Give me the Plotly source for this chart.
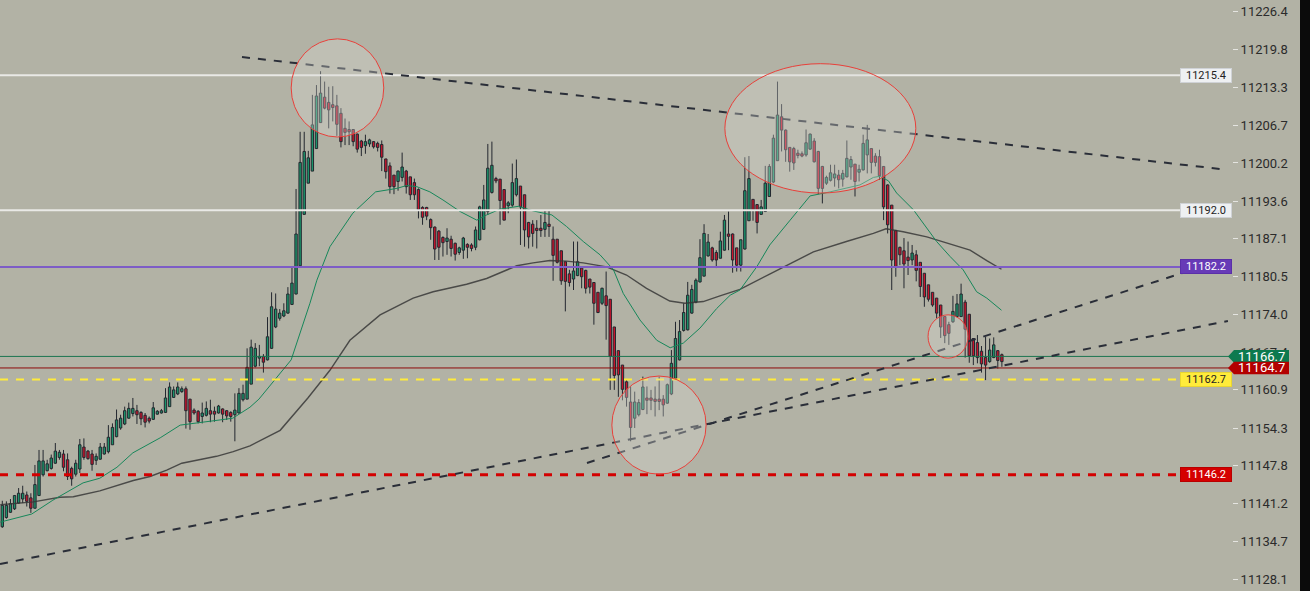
import plotly.graph_objects as go

# ---------------- candle data (OHLC) ----------------
open_ = [
11137.2,11138.8,11139.7,11140.3,11141.3,11142.0,11142.7,11142.2,11140.4,11142.6,
11146.2,11146.9,11147.3,11148.2,11149.2,11149.8,11148.8,11147.3,11146.3,11147.2,
11151.0,11150.3,11149.8,11148.7,11148.9,11149.8,11150.2,11151.4,11152.8,11154.3,
11155.0,11156.0,11156.8,11157.3,11157.0,11156.5,11156.0,11155.8,11156.7,11156.9,
11157.0,11158.0,11159.6,11160.2,11160.6,11161.1,11159.3,11157.4,11157.2,11156.3,
11156.5,11157.3,11157.2,11156.9,11157.6,11157.3,11157.0,11156.6,11156.9,11159.2,
11159.3,11161.9,11165.0,11166.4,11166.7,11166.1,11168.1,11171.8,11173.3,11173.7,
11174.2,11175.7,11177.5,11182.4,11191.3,11196.7,11198.8,11202.7,11207.2,11211.6,
11210.7,11210.3,11210.1,11208.8,11206.2,11206.0,11206.0,11205.2,11204.0,11203.2,
11203.5,11203.9,11203.6,11203.4,11200.9,11199.7,11198.1,11197.0,11197.7,11198.8,
11197.8,11196.8,11195.6,11192.5,11192.5,11190.4,11189.1,11188.4,11187.3,11186.6,
11187.0,11186.3,11184.7,11185.1,11186.1,11186.0,11185.6,11186.9,11188.7,11191.8,
11195.1,11197.5,11197.4,11195.6,11192.8,11192.9,11194.7,11196.2,11194.7,11189.9,
11189.6,11188.9,11188.9,11188.7,11189.6,11187.0,11187.0,11185.0,11183.1,11181.0,
11180.1,11180.7,11182.0,11181.6,11180.1,11179.5,11177.8,11175.9,11177.2,11176.6,
11171.8,11167.7,11165.2,11162.3,11158.8,11156.0,11156.6,11157.5,11159.5,11159.5,
11159.3,11159.3,11159.3,11158.6,11160.2,11162.9,11166.1,11171.2,11171.3,11174.2,
11176.1,11179.6,11180.6,11184.1,11185.5,11184.7,11183.7,11185.1,11187.9,11187.9,
11185.5,11182.5,11185.3,11190.2,11193.9,11193.0,11191.3,11191.8,11194.4,11196.9,
11200.6,11208.2,11205.9,11202.9,11202.7,11201.9,11201.8,11201.6,11202.6,11204.0,
11202.2,11199.6,11196.7,11197.2,11197.6,11198.1,11197.4,11197.8,11199.5,11200.0,
11198.6,11199.0,11201.6,11202.7,11201.4,11201.3,11199.6,11196.4,11192.9,11188.5,
11185.6,11185.0,11183.9,11183.4,11184.3,11183.0,11181.1,11179.1,11177.8,11176.8,
11175.6,11173.6,11172.2,11172.7,11173.6,11173.6,11176.1,11174.0,11169.8,11169.1,
11167.6,11166.5,11165.8,11166.5,11167.7,11167.0]
high = [
11141.7,11141.6,11142.0,11142.7,11143.9,11144.3,11143.3,11143.0,11147.9,11150.5,
11150.5,11148.8,11149.7,11151.7,11150.5,11150.5,11149.9,11147.6,11148.8,11152.4,
11152.5,11150.5,11150.5,11149.9,11151.7,11151.7,11154.8,11155.1,11157.5,11156.6,
11158.0,11158.7,11159.5,11158.3,11157.2,11156.9,11156.3,11158.8,11157.4,11157.6,
11161.2,11162.2,11161.5,11162.2,11161.5,11161.5,11159.3,11157.7,11157.4,11158.7,
11158.9,11159.2,11158.0,11158.3,11157.7,11157.4,11157.2,11160.3,11161.2,11161.8,
11168.1,11169.6,11169.0,11168.7,11167.1,11173.5,11177.8,11177.6,11174.9,11175.9,
11178.7,11182.3,11195.7,11205.6,11205.6,11202.3,11212.0,11213.7,11216.1,11214.3,
11213.4,11213.5,11212.0,11209.7,11207.9,11207.4,11206.0,11205.3,11204.2,11205.1,
11204.4,11204.0,11203.9,11204.1,11200.9,11200.3,11198.1,11198.9,11202.0,11199.0,
11197.8,11197.5,11195.8,11192.7,11192.6,11190.6,11189.2,11188.6,11187.5,11188.9,
11187.6,11186.4,11185.7,11187.4,11186.3,11186.3,11189.2,11192.8,11196.4,11203.5,
11203.9,11197.8,11197.4,11195.6,11193.6,11200.1,11200.8,11196.2,11194.7,11190.0,
11190.3,11190.3,11191.2,11191.9,11191.9,11189.2,11187.0,11185.0,11183.1,11181.7,
11186.6,11186.6,11182.0,11181.7,11180.1,11179.5,11177.8,11178.6,11181.4,11176.6,
11171.8,11167.7,11165.2,11162.6,11161.5,11160.6,11159.3,11163.2,11161.5,11160.9,
11161.5,11163.2,11160.0,11162.0,11167.8,11172.7,11173.0,11175.9,11179.6,11179.1,
11180.2,11187.0,11189.6,11187.9,11185.7,11185.1,11188.3,11191.2,11191.8,11188.0,
11185.5,11186.9,11201.2,11201.4,11193.9,11193.0,11193.8,11199.7,11200.0,11205.1,
11214.3,11210.4,11206.0,11202.9,11203.0,11202.5,11202.2,11206.0,11205.3,11204.5,
11202.3,11199.7,11198.0,11199.9,11199.9,11199.0,11199.0,11204.1,11201.4,11200.0,
11199.9,11205.1,11206.8,11202.7,11201.9,11202.5,11199.6,11196.5,11192.9,11188.6,
11185.7,11187.2,11186.6,11186.0,11185.1,11183.0,11181.1,11179.1,11177.8,11176.8,
11175.6,11173.6,11172.7,11177.2,11177.5,11179.3,11176.5,11174.0,11169.8,11170.4,
11168.5,11170.1,11169.8,11170.0,11167.8,11167.2]
low = [
11137.0,11138.6,11139.6,11140.1,11141.2,11141.3,11140.7,11139.6,11140.4,11142.6,
11145.9,11146.8,11147.1,11148.1,11148.8,11146.8,11145.3,11144.3,11145.9,11146.5,
11148.8,11148.8,11146.9,11147.9,11148.8,11149.7,11149.9,11151.4,11152.7,11154.0,
11154.8,11155.9,11156.3,11155.0,11154.8,11154.4,11155.1,11155.7,11156.6,11156.8,
11156.9,11158.0,11159.5,11160.0,11160.4,11154.2,11154.0,11156.6,11155.1,11155.1,
11156.3,11155.3,11155.4,11156.8,11155.3,11155.7,11155.4,11152.0,11156.8,11158.9,
11159.3,11161.9,11164.8,11165.0,11163.9,11166.0,11168.0,11171.6,11172.9,11173.5,
11174.1,11175.6,11177.5,11182.4,11191.3,11196.7,11198.8,11202.7,11207.2,11209.5,
11206.2,11207.4,11204.9,11202.9,11203.3,11203.3,11203.1,11202.0,11201.4,11201.8,
11203.0,11202.7,11202.2,11198.8,11197.5,11194.9,11194.8,11195.4,11197.0,11194.9,
11193.8,11193.8,11190.6,11189.5,11190.3,11186.9,11183.4,11183.4,11184.0,11184.3,
11184.0,11183.3,11184.3,11183.6,11183.7,11184.9,11185.1,11186.8,11188.6,11191.2,
11194.9,11196.7,11189.5,11190.3,11191.5,11192.6,11194.4,11186.0,11185.7,11185.4,
11185.7,11185.4,11187.4,11187.4,11187.4,11179.8,11182.8,11179.1,11174.5,11178.8,
11178.2,11180.6,11178.5,11177.6,11177.6,11172.2,11174.2,11175.6,11169.6,11160.9,
11160.9,11159.7,11159.1,11158.0,11152.0,11154.3,11156.3,11157.4,11156.7,11157.4,
11156.3,11157.4,11156.3,11158.5,11160.0,11162.8,11166.0,11171.0,11171.2,11174.1,
11175.9,11179.5,11180.6,11184.0,11183.1,11182.0,11183.7,11185.0,11185.1,11181.2,
11181.4,11181.4,11185.2,11190.2,11190.2,11188.0,11191.2,11191.7,11194.4,11196.7,
11200.6,11202.2,11200.4,11198.7,11199.0,11201.0,11201.2,11201.3,11202.5,11200.3,
11194.8,11193.2,11196.4,11197.0,11196.1,11195.8,11196.1,11197.7,11197.3,11194.4,
11197.0,11198.9,11198.4,11198.4,11199.6,11197.3,11190.3,11188.0,11178.2,11180.5,
11182.5,11178.5,11180.8,11182.5,11179.7,11177.0,11175.3,11176.2,11175.3,11173.3,
11169.9,11169.0,11168.7,11172.5,11173.6,11173.6,11166.5,11165.6,11165.2,11165.5,
11163.9,11162.6,11165.6,11166.4,11164.6,11164.9]
close = [
11140.9,11140.9,11141.2,11142.6,11143.0,11143.0,11141.6,11140.4,11144.5,11148.6,
11148.6,11148.1,11149.1,11150.3,11150.1,11147.5,11145.9,11145.5,11148.2,11151.4,
11149.2,11149.0,11148.0,11149.4,11151.0,11151.0,11152.7,11154.4,11155.7,11156.0,
11157.3,11157.7,11157.7,11156.6,11155.9,11155.3,11155.5,11157.8,11157.2,11157.3,
11159.5,11161.4,11160.9,11161.4,11161.1,11157.3,11155.4,11156.9,11155.4,11156.9,
11157.7,11156.7,11156.7,11158.1,11156.7,11156.4,11156.3,11157.4,11160.3,11160.3,
11164.8,11168.3,11168.1,11166.7,11165.7,11170.1,11175.3,11174.9,11174.2,11174.6,
11177.5,11179.4,11187.9,11200.3,11202.2,11201.1,11206.8,11211.8,11212.3,11209.7,
11209.4,11209.8,11206.9,11203.9,11205.5,11205.6,11203.9,11202.6,11202.9,11203.9,
11204.2,11203.0,11202.9,11201.2,11198.7,11196.1,11196.1,11198.8,11199.5,11196.1,
11194.7,11194.7,11192.1,11190.8,11191.0,11189.0,11185.3,11185.6,11186.4,11187.2,
11185.4,11184.4,11185.5,11187.2,11185.6,11185.4,11188.6,11192.6,11193.8,11199.3,
11199.8,11197.1,11193.7,11190.3,11193.3,11196.8,11197.5,11192.6,11188.6,11187.4,
11188.0,11188.5,11188.5,11189.9,11189.2,11184.2,11183.0,11179.8,11179.7,11179.5,
11181.5,11183.1,11180.5,11178.5,11178.7,11175.9,11174.3,11178.5,11175.5,11166.7,
11163.4,11163.5,11161.0,11159.6,11154.4,11158.8,11158.7,11161.4,11159.1,11159.1,
11158.9,11158.9,11158.3,11161.8,11165.5,11169.8,11171.0,11174.3,11177.3,11178.3,
11179.9,11183.8,11188.0,11186.5,11183.4,11183.4,11186.7,11190.3,11187.5,11183.4,
11182.5,11186.9,11195.4,11197.5,11192.0,11189.9,11192.6,11196.7,11199.6,11204.5,
11208.5,11205.9,11202.5,11200.4,11200.2,11201.5,11201.4,11203.7,11205.2,11200.4,
11195.8,11195.8,11197.7,11198.5,11198.3,11197.3,11198.4,11201.0,11200.8,11197.0,
11199.1,11203.6,11204.2,11200.3,11200.3,11198.0,11192.6,11189.5,11183.4,11182.1,
11184.3,11182.7,11183.3,11184.6,11181.6,11178.8,11177.0,11176.6,11175.6,11174.2,
11171.8,11170.3,11170.7,11174.5,11175.8,11177.5,11171.4,11166.8,11166.8,11166.5,
11165.4,11165.2,11167.8,11168.7,11166.0,11165.8]

# ---------------- moving averages ----------------
ma_fast_idx = [-0.5, 7.2, 12.4, 16.6, 19.8, 23.9, 28.1, 32.0, 38.7, 43.6, 48.5, 53.4, 56.5, 60.7,
               62.9, 70.8, 75.4, 77.1, 80.3, 85.9, 91.5, 96.7, 99.1, 101.6, 104.8, 108.0, 112.2,
               116.3, 118.7, 122.0, 126.5, 130.1, 134.7, 138.3, 142.4, 146.5, 149.8, 152.2, 156.3,
               160.4, 163.7, 166.9, 171.0, 175.1, 178.4, 180.8, 184.9, 188.1, 193.1, 198.0, 202.9,
               210.2, 213.5, 215.1, 217.2, 219.2, 223.3, 229.0, 232.3, 235.5, 238.8, 241.3, 244.9]
ma_fast_val = [11138.0, 11139.4, 11141.8, 11143.5, 11144.8, 11145.6, 11147.5, 11150.0, 11152.6,
               11154.8, 11155.2, 11155.7, 11156.0, 11157.9, 11159.3, 11166.1, 11175.9, 11179.9,
               11185.7, 11191.5, 11195.2, 11195.8, 11196.3, 11196.1, 11195.2, 11193.8, 11191.8,
               11190.3, 11191.2, 11192.2, 11192.7, 11191.9, 11191.2, 11189.2, 11186.6, 11184.3,
               11181.7, 11177.6, 11173.0, 11169.5, 11168.2, 11169.0, 11171.6, 11175.0, 11177.3,
               11178.2, 11182.2, 11186.0, 11190.3, 11194.5, 11195.2, 11196.4, 11197.7, 11197.9,
               11197.1, 11195.0, 11192.1, 11186.6, 11184.0, 11181.7, 11177.9, 11176.8, 11174.7]
ma_slow_idx = [-0.5, 7.6, 14.1, 17.4, 23.9, 32.1, 36.2, 40.3, 44.0, 48.5, 52.5, 56.6, 60.7, 68.1,
               74.9, 80.3, 85.2, 92.6, 100.7, 105.6, 113.8, 118.7, 122.0, 126.1, 130.1, 134.2,
               138.3, 142.4, 148.1, 153.0, 157.9, 163.6, 167.3, 171.8, 175.9, 180.8, 188.2, 198.8,
               206.9, 213.5, 216.6, 220.8, 226.6, 233.1, 237.2, 241.3, 244.9]
ma_slow_val = [11141.0, 11141.5, 11142.3, 11142.4, 11143.4, 11145.2, 11145.9, 11147.0, 11148.2,
               11148.8, 11149.4, 11150.2, 11151.2, 11153.9, 11159.5, 11164.3, 11169.5, 11173.9,
               11176.8, 11177.9, 11179.2, 11180.2, 11181.2, 11182.4, 11182.9, 11183.3, 11183.2,
               11182.9, 11182.2, 11180.8, 11178.5, 11176.3, 11175.9, 11176.2, 11177.2, 11178.3,
               11181.0, 11184.8, 11186.6, 11188.0, 11188.8, 11188.3, 11187.4, 11186.0, 11185.1,
               11183.3, 11181.8]

# ---------------- axis ticks ----------------
tick_vals = [11226.4, 11219.8, 11213.3, 11206.7, 11200.2, 11193.6, 11187.1, 11180.5,
             11174.0, 11167.4, 11160.9, 11154.3, 11147.8, 11141.2, 11134.7, 11128.1]
tick_text = ["%.1f" % v for v in tick_vals]

# ---------------- drawings ----------------
white_levels = [11215.4, 11192.0]
purple_level = 11182.2
yellow_level = 11162.7
red_level = 11146.2
last_price_green = 11166.7
last_price_red = 11164.7

trend_top = [(58.75, 11218.56), (298.5, 11199.16)]
trend_low = [(-0.56, 11130.75), (300.4, 11172.83)]
trend_mid = [(143.3, 11148.24), (298.5, 11183.22)]

ellipses = [(70.8, 93.5, 11221.7, 11204.7),
            (177.1, 223.9, 11217.4, 11195.0),
            (149.4, 172.5, 11163.3, 11146.3),
            (226.9, 236.7, 11173.9, 11166.4)]

# ---------------- geometry / style ----------------
W, H = 1310, 591
PLOT_W = 1232
X_RANGE = [-0.564, 301.4]
Y_RANGE = [11126.07, 11228.43]
px_y = (Y_RANGE[1] - Y_RANGE[0]) / H

BG = "#b2b2a5"
UP = "#1a946a"
DOWN = "#c8142c"
EDGE = "#23272f"
FONT = "Roboto"

n = len(open_)
idx = list(range(n))
base = [min(o, c) for o, c in zip(open_, close)]
height = [max(abs(c - o), 0.12) for o, c in zip(open_, close)]
colors = [UP if c >= o else DOWN for o, c in zip(open_, close)]

wx, wy = [], []
for i in idx:
    top = max(open_[i], close[i])
    bot = min(open_[i], close[i])
    wx += [i, i, None, i, i, None]
    wy += [high[i], top, None, bot, low[i], None]

fig = go.Figure()
fig.add_trace(go.Scatter(x=wx, y=wy, mode="lines", line=dict(color=EDGE, width=1),
                         hoverinfo="skip", showlegend=False))
fig.add_trace(go.Bar(x=idx, base=base, y=height, width=0.58,
                     marker=dict(color=colors, line=dict(color=EDGE, width=1)),
                     showlegend=False))
fig.add_trace(go.Scatter(x=ma_slow_idx, y=ma_slow_val, mode="lines",
                         line=dict(color="rgba(55,55,55,0.85)", width=1.4), showlegend=False))
fig.add_trace(go.Scatter(x=ma_fast_idx, y=ma_fast_val, mode="lines",
                         line=dict(color="#17875a", width=1), showlegend=False))

shapes = []
label_x1 = 1180 / PLOT_W
for lv in white_levels:
    shapes.append(dict(type="line", xref="paper", yref="y", x0=0, x1=label_x1, y0=lv, y1=lv,
                       line=dict(color="#e9e9e6", width=2)))
shapes.append(dict(type="line", xref="paper", yref="y", x0=0, x1=label_x1, y0=purple_level,
                   y1=purple_level, line=dict(color="#7d5cc6", width=2)))
shapes.append(dict(type="line", xref="paper", yref="y", x0=0, x1=1, y0=last_price_green,
                   y1=last_price_green, line=dict(color="#1b7550", width=1)))
shapes.append(dict(type="line", xref="paper", yref="y", x0=0, x1=1, y0=last_price_red,
                   y1=last_price_red, line=dict(color="#8e0a0a", width=1)))
shapes.append(dict(type="line", xref="paper", yref="y", x0=0, x1=label_x1, y0=yellow_level,
                   y1=yellow_level, line=dict(color="#ffeb3b", width=2, dash="8px,8px")))
shapes.append(dict(type="line", xref="paper", yref="y", x0=0, x1=label_x1, y0=red_level,
                   y1=red_level, line=dict(color="#d40000", width=3, dash="8px,8px")))
for (xa, ya), (xb, yb) in (trend_top, trend_low, trend_mid):
    shapes.append(dict(type="line", xref="x", yref="y", x0=xa, y0=ya, x1=xb, y1=yb,
                       line=dict(color="#2a2e38", width=2, dash="8px,8px")))
for x0, x1, y0, y1 in ellipses:
    shapes.append(dict(type="circle", xref="x", yref="y", x0=x0, x1=x1, y0=y0, y1=y1,
                       fillcolor="rgba(215,215,210,0.35)",
                       line=dict(color="#e8403a", width=1)))

# price tags on the axis
tip = 1228 / PLOT_W
tl = 1234 / PLOT_W
tr = 1289 / PLOT_W
hh = 6.3 * px_y
for val, col in ((last_price_green, "#0d7a4f"), (last_price_red, "#b30000")):
    path = "M %f,%f L %f,%f L %f,%f L %f,%f L %f,%f Z" % (
        tip, val, tl, val + hh, tr, val + hh, tr, val - hh, tl, val - hh)
    shapes.append(dict(type="path", xref="paper", yref="y", path=path,
                       fillcolor=col, line=dict(width=0)))

# dark band at far right
shapes.append(dict(type="rect", xref="paper", yref="paper", x0=1300 / PLOT_W, x1=1312 / PLOT_W,
                   y0=0, y1=1, fillcolor="#0b0b0b", line=dict(width=0)))

annotations = []
lab_x = 1206 / PLOT_W
def box(val, bg, fg, border):
    annotations.append(dict(xref="paper", yref="y", x=lab_x, y=val, text="%.1f" % val,
                            showarrow=False, xanchor="center", yanchor="middle",
                            bgcolor=bg, bordercolor=border, borderwidth=1, borderpad=1,
                            width=48, height=11, font=dict(family=FONT, size=11, color=fg)))
for lv in white_levels:
    box(lv, "#eef0f2", "#222222", "#cfd2d6")
box(purple_level, "#673ab7", "#ffffff", "#5a2fa8")
box(yellow_level, "#ffeb3b", "#222222", "#e8d530")
box(red_level, "#d50000", "#ffffff", "#b80000")
for val in (last_price_green, last_price_red):
    annotations.append(dict(xref="paper", yref="y", x=(tl + tr) / 2, y=val, text="%.1f" % val,
                            showarrow=False, xanchor="center", yanchor="middle",
                            font=dict(family=FONT, size=13, color="#ffffff")))

fig.update_layout(
    width=W, height=H, margin=dict(l=0, r=W - PLOT_W, t=0, b=0),
    paper_bgcolor=BG, plot_bgcolor=BG, barmode="overlay", showlegend=False,
    xaxis=dict(range=X_RANGE, visible=False, showgrid=False, zeroline=False, fixedrange=True),
    yaxis=dict(range=Y_RANGE, side="right", tickvals=tick_vals, ticktext=tick_text,
               showgrid=False, zeroline=False, showline=False, ticks="outside", ticklen=5,
               tickcolor="#e4e4e0", tickwidth=1,
               tickfont=dict(family=FONT, size=13, color="#2b2b2b")),
    shapes=shapes, annotations=annotations,
)

fig.write_html("out.html", config={"displayModeBar": False},
               post_script="document.body.style.margin='0';document.body.style.padding='0';"
                           "document.documentElement.style.overflow='hidden';")
